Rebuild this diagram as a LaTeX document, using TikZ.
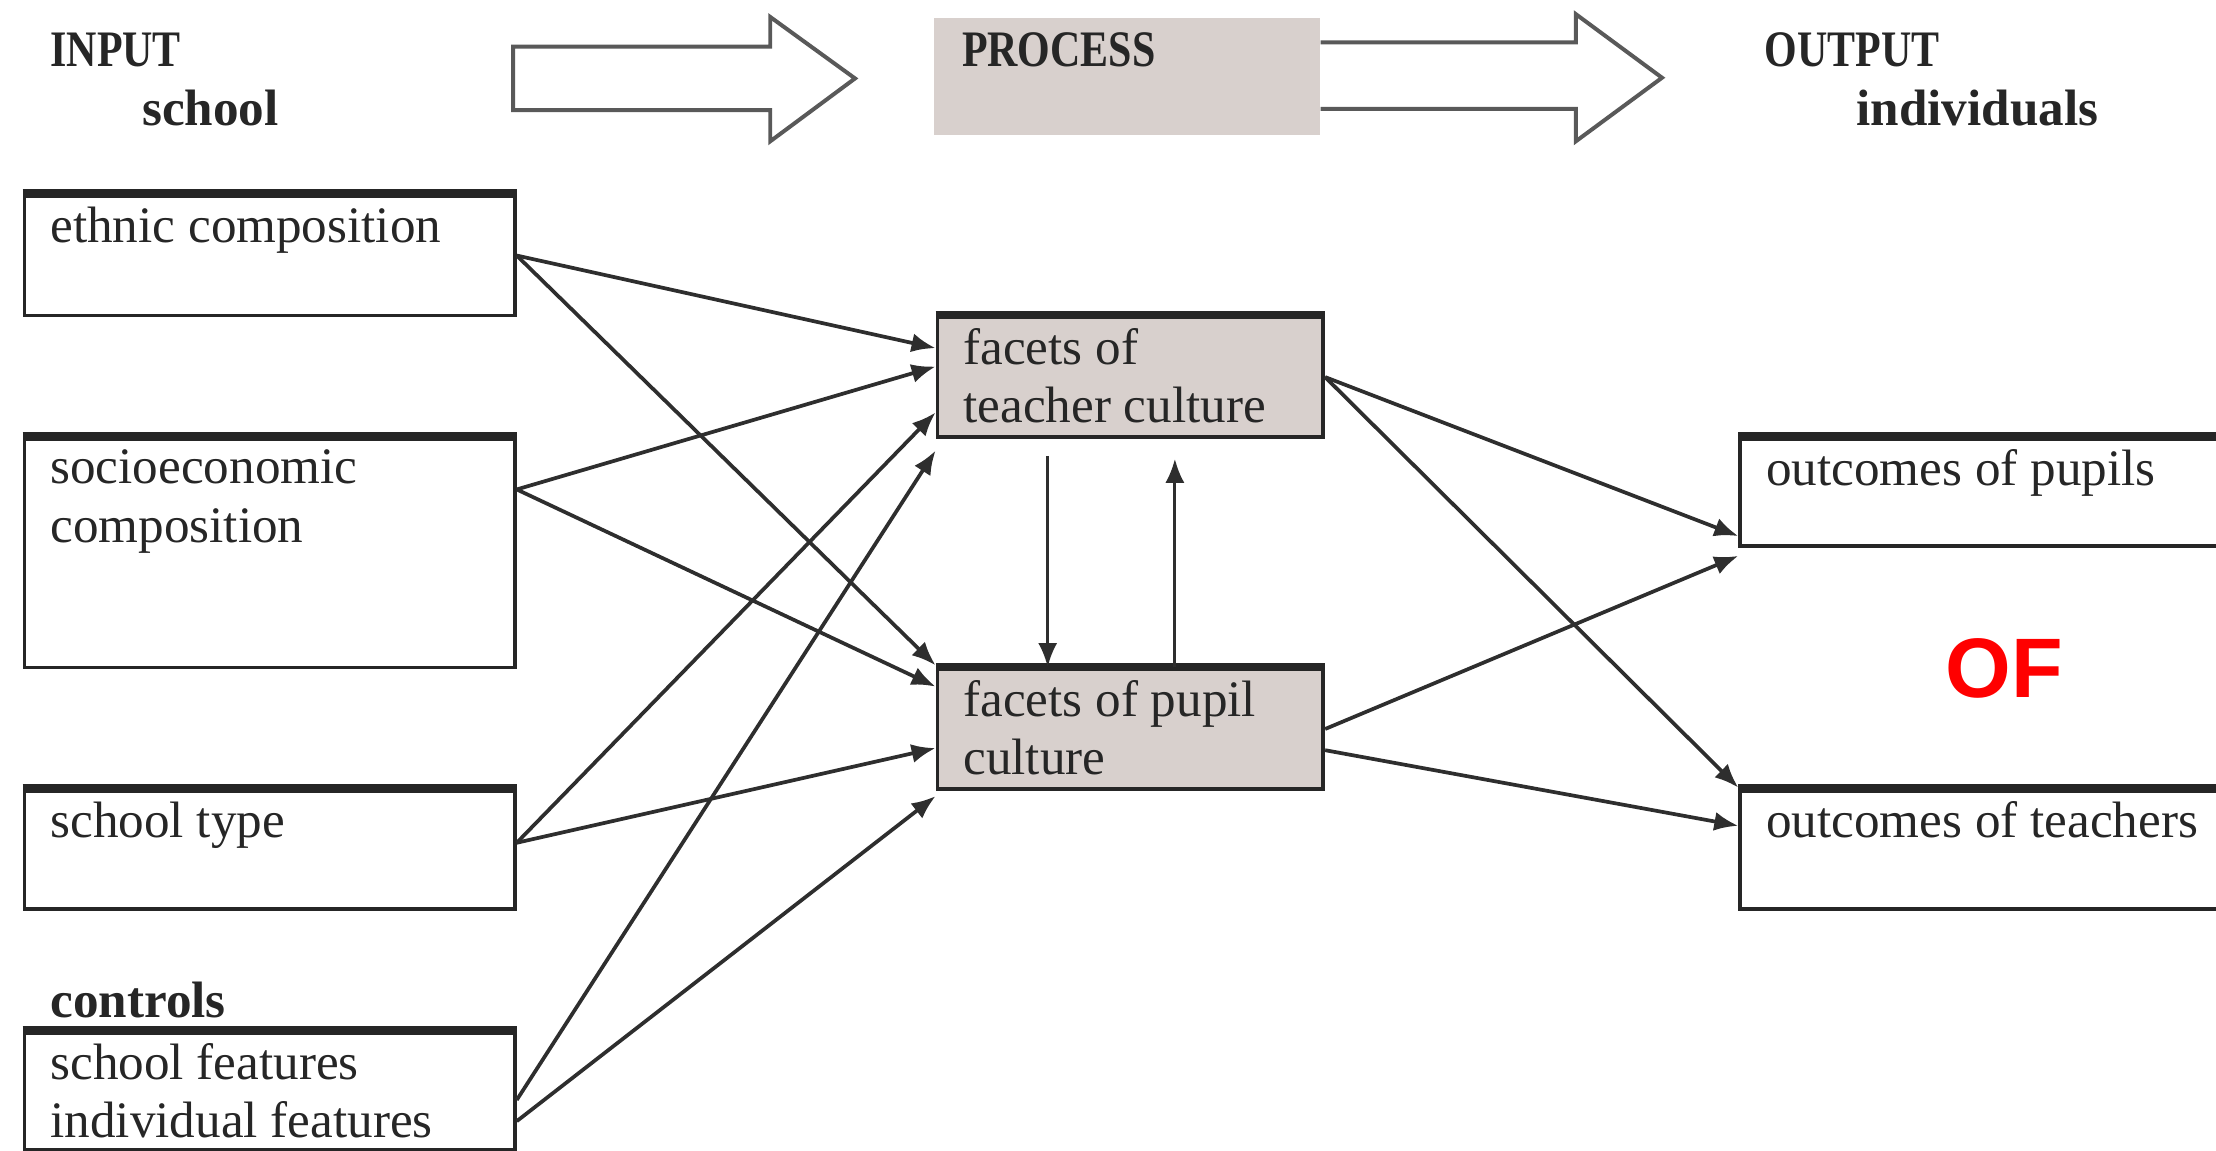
\documentclass[tikz,border=0pt]{standalone}
\usepackage{fontspec}
\setmainfont{Liberation Serif}
\newfontfamily\capsfont[FakeStretch=0.82]{Liberation Serif}
\newfontfamily\markfont{Liberation Sans}
\usepackage{xcolor}
\usepackage{tikz}
\usetikzlibrary{arrows.meta}
\definecolor{cellgray}{HTML}{D8D0CD}
\definecolor{linegray}{HTML}{2E2E2E}

\begin{document}
\begin{tikzpicture}[
		font=\fontsize{10.3}{11.8}\selectfont, text=black!85,
		box/.style={draw=black!85, line width=0.75pt, rectangle, anchor=north west, inner sep=0pt,
			append after command={(\tikzlastnode.north west) edge[line width=1.7pt, black!85] (\tikzlastnode.north east)}},
		inbox/.style={box, minimum width=3.47cm},
		midbox/.style={box, fill=cellgray, minimum width=2.73cm},
		outbox/.style={box, minimum width=3.6cm},
		boxtext/.style={anchor=north west, align=left, inner sep=0pt, xshift=0.19cm, yshift=-0.085cm},
		head/.style={font=\capsfont\bfseries\fontsize{10.3}{11.8}\selectfont, anchor=base west, inner sep=0pt},
		sub/.style={font=\bfseries\fontsize{10.3}{11.8}\selectfont, anchor=base west, inner sep=0pt},
		conn/.style={draw=linegray, line width=0.75pt, -{Latex[length=1.7mm,width=1.35mm]}},
		bigarrow/.style={draw=black!65, line width=0.8pt, fill=white, line join=miter}
	]
		\useasboundingbox (0,0) rectangle (15.68,-8.14);
		\clip (0,0) rectangle (15.68,-8.14);
		
		% header row
		\node[head] (input) at (0.35,-0.47) {INPUT};
		\node[sub] (school) at (1.00,-0.89) {school};
		\node[fill=cellgray, anchor=north west, minimum width=2.73cm, minimum height=0.83cm,
			label={[head, name=process-t, xshift=0.20cm, yshift=-0.35cm]north west:PROCESS}] (process) at (6.60,-0.12) {};
		\node[head] (output) at (12.48,-0.47) {OUTPUT};
		\node[sub] (indiv) at (13.13,-0.89) {individuals};
		
		\draw[bigarrow] (3.63,-0.33) -- (5.45,-0.33) -- (5.45,-0.12) -- (6.05,-0.555)
			-- (5.45,-1.00) -- (5.45,-0.78) -- (3.63,-0.78) -- cycle;
		\draw[bigarrow] (process.east |- 0,-0.30) -- (11.15,-0.30) -- (11.15,-0.10) -- (11.76,-0.55)
			-- (11.15,-1.00) -- (11.15,-0.77) -- (process.east |- 0,-0.77);
		
		% input boxes
		\node[inbox, minimum height=0.85cm, label={[boxtext, name=ethnic-t]north west:ethnic composition}] (ethnic) at (0.16,-1.37) {};
		\node[inbox, minimum height=1.62cm, label={[boxtext, name=socio-t]north west:socioeconomic\\composition}] (socio) at (0.16,-3.09) {};
		\node[inbox, minimum height=0.84cm, label={[boxtext, name=stype-t]north west:school type}] (stype) at (0.16,-5.58) {};
		\node[sub] (controls) at (0.35,-7.20) {controls};
		\node[inbox, minimum height=0.83cm, label={[boxtext, name=ctrl-t]north west:school features\\individual features}] (ctrl) at (0.16,-7.29) {};
		
		% process boxes
		\node[midbox, minimum height=0.85cm, label={[boxtext, name=teacher-t]north west:facets of\\teacher culture}] (teacher) at (6.62,-2.23) {};
		\node[midbox, minimum height=0.85cm, label={[boxtext, name=pupil-t]north west:facets of pupil\\culture}] (pupil) at (6.62,-4.72) {};
		
		% output boxes
		\node[outbox, minimum height=0.76cm, label={[boxtext, name=outp-t]north west:outcomes of pupils}] (outp) at (12.30,-3.09) {};
		\node[outbox, minimum height=0.84cm, label={[boxtext, name=outt-t]north west:outcomes of teachers}] (outt) at (12.30,-5.58) {};
		
		\node[text=red, font=\markfont\bfseries\fontsize{17}{20}\selectfont] (of) at (14.18,-4.73) {OF};
		
		% input -> process
		\draw[conn] (ethnic.east) -- ([yshift=0.205cm]teacher.west);
		\draw[conn] (ethnic.east) -- ([yshift=0.45cm]pupil.west);
		\draw[conn] ([yshift=0.45cm]socio.east) -- ([yshift=0.075cm]teacher.west);
		\draw[conn] ([yshift=0.45cm]socio.east) -- ([yshift=0.30cm]pupil.west);
		\draw[conn] ([yshift=0.05cm]stype.east) -- ([yshift=-0.25cm]teacher.west);
		\draw[conn] ([yshift=0.05cm]stype.east) -- ([yshift=-0.135cm]pupil.west);
		\draw[conn] ([yshift=-0.065cm]ctrl.east) -- ([yshift=-0.52cm]teacher.west);
		\draw[conn] ([yshift=-0.215cm]ctrl.east) -- ([yshift=-0.475cm]pupil.west);
		
		% between process boxes
		\draw[conn, line width=0.6pt, shorten <=0.12cm] ([xshift=-0.585cm]teacher.south) -- ([xshift=-0.585cm]pupil.north);
		\draw[conn, line width=0.6pt, shorten >=0.14cm] ([xshift=0.315cm]pupil.north) -- ([xshift=0.315cm]teacher.south);
		
		% process -> output
		\draw[conn] (teacher.east) -- ([yshift=-0.31cm]outp.west);
		\draw[conn] (teacher.east) -- ([yshift=0.44cm]outt.west);
		\draw[conn] (pupil.east) -- ([yshift=-0.45cm]outp.west);
		\draw[conn] ([yshift=-0.15cm]pupil.east) -- ([yshift=0.17cm]outt.west);
	\end{tikzpicture}
\end{document}
